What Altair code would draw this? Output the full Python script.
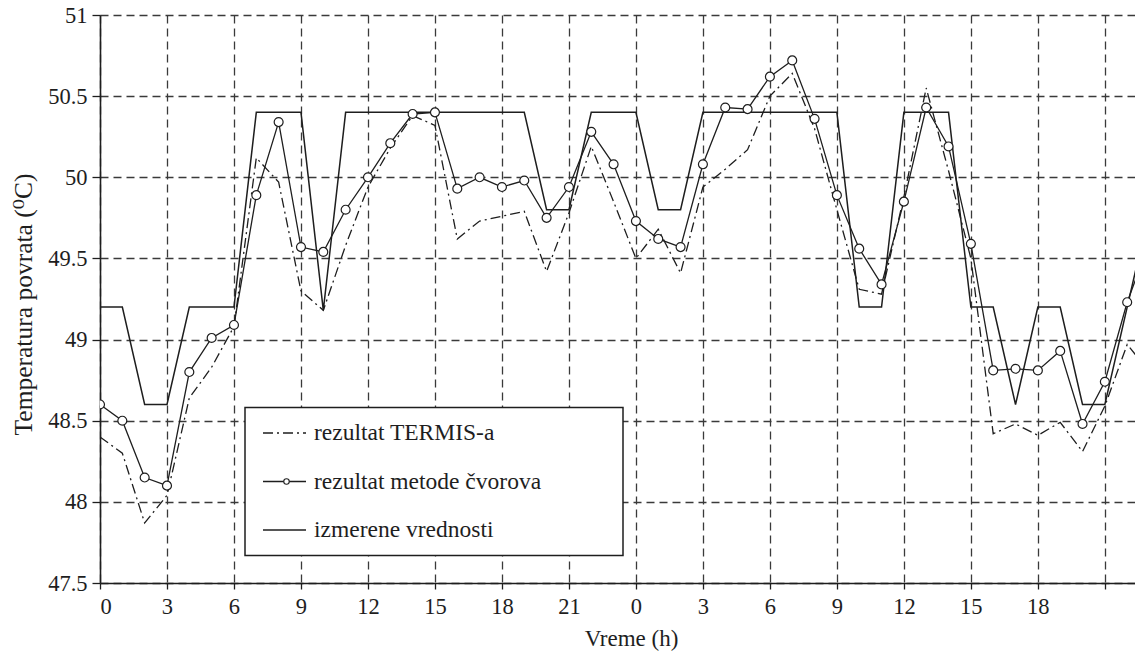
import altair as alt
import pandas as pd

hours = list(range(48))
izmerene = [49.2, 49.2, 48.6, 48.6, 49.2, 49.2, 49.2, 50.4, 50.4, 50.4,
            49.18, 50.4, 50.4, 50.4, 50.4, 50.4, 50.4, 50.4, 50.4, 50.4,
            49.8, 49.8, 50.4, 50.4, 50.4, 49.8, 49.8, 50.4, 50.4, 50.4,
            50.4, 50.4, 50.4, 50.4, 49.2, 49.2, 50.4, 50.4, 50.4, 49.2,
            49.2, 48.6, 49.2, 49.2, 48.6, 48.6, 49.2, 49.8]
cvorova = [48.60, 48.50, 48.15, 48.10, 48.80, 49.01, 49.09, 49.89, 50.34, 49.57,
           49.54, 49.80, 50.00, 50.21, 50.39, 50.40, 49.93, 50.00, 49.94, 49.98,
           49.75, 49.94, 50.28, 50.08, 49.73, 49.62, 49.57, 50.08, 50.43, 50.42,
           50.62, 50.72, 50.36, 49.89, 49.56, 49.34, 49.85, 50.43, 50.19, 49.59,
           48.81, 48.82, 48.81, 48.93, 48.48, 48.74, 49.23, 49.60]
termis = [48.40, 48.30, 47.87, 48.04, 48.64, 48.83, 49.08, 50.12, 49.97, 49.30,
          49.18, 49.58, 49.94, 50.18, 50.38, 50.32, 49.62, 49.73, 49.76, 49.79,
          49.42, 49.78, 50.19, 49.85, 49.50, 49.68, 49.41, 49.94, 50.05, 50.17,
          50.50, 50.64, 50.30, 49.80, 49.31, 49.28, 49.88, 50.55, 50.04, 49.50,
          48.42, 48.48, 48.41, 48.49, 48.31, 48.59, 48.97, 48.80]

x_ticks = list(range(0, 46, 3))
y_ticks = [47.5, 48, 48.5, 49, 49.5, 50, 50.5, 51]
legend_labels = ["rezultat TERMIS-a", "rezultat metode čvorova", "izmerene vrednosti"]

df = pd.DataFrame({"h": hours, "izmerene": izmerene, "cvorova": cvorova, "termis": termis})

FONT = "'Liberation Serif', 'DejaVu Serif', 'Times New Roman', serif"
INK = "#1e1e1e"

x_enc = alt.X(
    "h:Q",
    scale=alt.Scale(domain=[0, 46.35], nice=False, zero=False),
    axis=alt.Axis(
        values=x_ticks,
        labelExpr="datum.value >= 45 ? '' : '' + (datum.value % 24)",
        title="Vreme (h)",
        titleX=531, titleY=62, titleAlign="center", titleBaseline="alphabetic",
        tickSize=6, labelPadding=6,
    ),
)

def y_enc(field):
    return alt.Y(
        f"{field}:Q",
        scale=alt.Scale(domain=[47.5, 51], nice=False, zero=False),
        axis=alt.Axis(
            values=y_ticks, format="~g",
            title="Temperatura povrata (⁰C)",
            titleX=-77, titleY=289, titleAngle=-90, titleFontSize=25.5,
            titleAlign="center", titleBaseline="middle",
            tickSize=8, labelPadding=5,
        ),
    )

base = alt.Chart(df)

measured_line = base.mark_line(color=INK, strokeWidth=1.5, clip=True).encode(
    x=x_enc, y=y_enc("izmerene"))
termis_line = base.mark_line(color=INK, strokeWidth=1.3, strokeDash=[10, 4, 2, 4], clip=True).encode(
    x=x_enc, y=y_enc("termis"))
nodal_line = base.mark_line(color=INK, strokeWidth=1.3, clip=True).encode(
    x=x_enc, y=y_enc("cvorova"))
nodal_pts = base.mark_point(shape="circle", filled=True, fill="white", stroke=INK,
                            strokeWidth=1.2, size=80, opacity=1, clip=True).encode(
    x=x_enc, y=y_enc("cvorova"))

# legend box (pixel positions relative to the plot area)
one = alt.Chart(pd.DataFrame({"k": [0]}))
leg_box = one.mark_rect(fill="white", stroke=INK, strokeWidth=1.5).encode(
    x=alt.value(145), x2=alt.value(523), y=alt.value(392.5), y2=alt.value(540.5))

row_y = [418, 466.5, 515]
leg_l1 = one.mark_rule(color=INK, strokeWidth=1.3, strokeDash=[10, 4, 2, 4]).encode(
    x=alt.value(163), x2=alt.value(206), y=alt.value(row_y[0]))
leg_l2 = one.mark_rule(color=INK, strokeWidth=1.3).encode(
    x=alt.value(163), x2=alt.value(206), y=alt.value(row_y[1]))
leg_p2 = one.mark_point(shape="circle", filled=True, fill="white", stroke=INK,
                        strokeWidth=1.1, size=30, opacity=1).encode(
    x=alt.value(186.5), y=alt.value(row_y[1]))
leg_l3 = one.mark_rule(color=INK, strokeWidth=1.5).encode(
    x=alt.value(163), x2=alt.value(206), y=alt.value(row_y[2]))

leg_text = alt.Chart(pd.DataFrame({"label": legend_labels, "ypos": row_y})).mark_text(
    align="left", baseline="middle", font=FONT, fontSize=23.5, color=INK, dx=0
).encode(
    x=alt.value(214),
    y=alt.Y("ypos:Q", scale=None),
    text="label:N",
)

chart = alt.layer(
    measured_line, termis_line, nodal_line, nodal_pts,
    leg_box, leg_l1, leg_l2, leg_p2, leg_l3, leg_text,
).properties(
    width=1035, height=568,
    padding={"left": 100, "top": 15, "right": 0, "bottom": 70},
    autosize=alt.AutoSizeParams(type="none"),
    background="white",
).configure_view(
    stroke=None
).configure_axis(
    labelFont=FONT, titleFont=FONT, labelFontSize=22.5, titleFontSize=23,
    labelColor=INK, titleColor=INK, titleFontWeight="normal",
    domainColor=INK, domainWidth=1.6, tickColor=INK, tickWidth=1.3,
    grid=True, gridColor="#3a3a3a", gridWidth=1.3, gridDash=[8, 5], gridOpacity=1,
)

chart.save("out.html", embed_options={"renderer": "svg", "actions": False})
